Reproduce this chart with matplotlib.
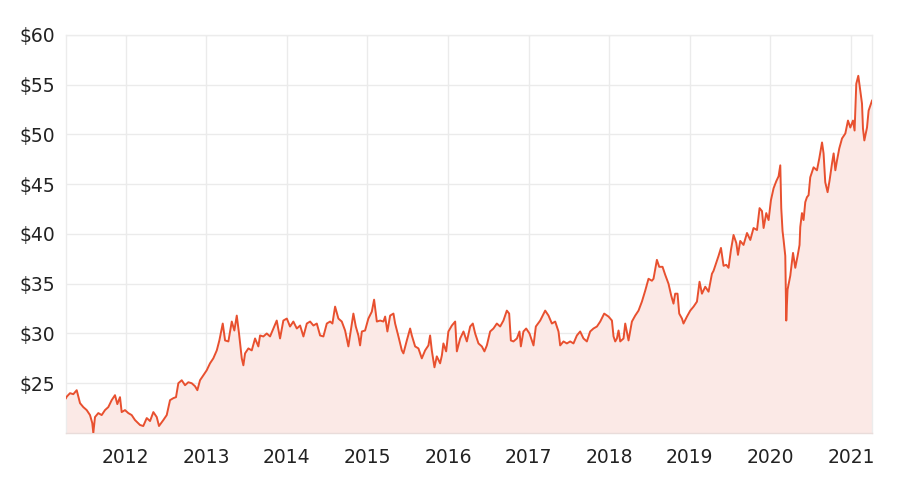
import matplotlib
matplotlib.use("Agg")
import matplotlib.pyplot as plt

plt.rcParams['font.family'] = ['DejaVu Sans']

# decimal-year dates and share prices (USD)
dates = [
    2011.259, 2011.268, 2011.309, 2011.350, 2011.392, 2011.433, 2011.474, 2011.516, 2011.557, 2011.585,
    2011.598, 2011.619, 2011.660, 2011.702, 2011.743, 2011.784, 2011.826, 2011.867, 2011.896, 2011.929,
    2011.950, 2011.991, 2012.032, 2012.074, 2012.115, 2012.178, 2012.218, 2012.261, 2012.302, 2012.343,
    2012.385, 2012.413, 2012.467, 2012.509, 2012.550, 2012.591, 2012.624, 2012.653, 2012.695, 2012.736,
    2012.777, 2012.819, 2012.860, 2012.889, 2012.922, 2012.963, 2013.005, 2013.046, 2013.087, 2013.130,
    2013.162, 2013.204, 2013.233,
    2013.274, 2013.316, 2013.348, 2013.378, 2013.406, 2013.440, 2013.460, 2013.481, 2013.522, 2013.564,
    2013.605, 2013.646, 2013.667, 2013.708, 2013.750, 2013.791, 2013.832, 2013.874, 2013.915, 2013.956,
    2013.999, 2014.039, 2014.080, 2014.123, 2014.164, 2014.205, 2014.247, 2014.288, 2014.329, 2014.371,
    2014.412, 2014.453, 2014.495, 2014.536, 2014.565, 2014.598, 2014.639, 2014.681, 2014.722, 2014.763,
    2014.797, 2014.825, 2014.855, 2014.887, 2014.908, 2014.930, 2014.970, 2015.011, 2015.054, 2015.082,
    2015.116, 2015.157, 2015.198, 2015.219, 2015.247, 2015.281,
    2015.322, 2015.343, 2015.384, 2015.426, 2015.446, 2015.488, 2015.529, 2015.550, 2015.591, 2015.632,
    2015.674, 2015.715, 2015.756, 2015.777, 2015.798, 2015.831, 2015.860, 2015.901, 2015.923, 2015.942,
    2015.976, 2016.004, 2016.047, 2016.088, 2016.109, 2016.150, 2016.191, 2016.233, 2016.274, 2016.307,
    2016.336, 2016.377, 2016.419, 2016.451, 2016.481, 2016.522, 2016.563, 2016.605, 2016.646, 2016.687,
    2016.729, 2016.758, 2016.779, 2016.811, 2016.854, 2016.886, 2016.903, 2016.935, 2016.969, 2017.010,
    2017.060, 2017.089, 2017.143, 2017.205, 2017.246, 2017.288, 2017.329, 2017.370,
    2017.391, 2017.432, 2017.474, 2017.515, 2017.556, 2017.598, 2017.639, 2017.680, 2017.722, 2017.763,
    2017.804, 2017.847, 2017.888, 2017.937, 2017.991, 2018.033, 2018.053, 2018.074, 2018.095, 2018.115,
    2018.136, 2018.177, 2018.198, 2018.239, 2018.281, 2018.322, 2018.363, 2018.405, 2018.446,
    2018.487, 2018.529, 2018.549, 2018.591, 2018.620, 2018.661, 2018.694, 2018.735, 2018.769, 2018.797,
    2018.818, 2018.847, 2018.868, 2018.902, 2018.921, 2018.964, 2019.005, 2019.046, 2019.088, 2019.120,
    2019.150, 2019.191, 2019.232, 2019.274,
    2019.294, 2019.356, 2019.386, 2019.418, 2019.452, 2019.480, 2019.510, 2019.542, 2019.576, 2019.597,
    2019.625, 2019.666, 2019.709, 2019.750, 2019.790, 2019.833, 2019.865, 2019.895, 2019.915, 2019.948,
    2019.977, 2020.006, 2020.039, 2020.072, 2020.101, 2020.122, 2020.134, 2020.150, 2020.163, 2020.184,
    2020.196, 2020.212, 2020.246, 2020.280, 2020.308, 2020.337, 2020.361,
    2020.370, 2020.391, 2020.411, 2020.432, 2020.453, 2020.473, 2020.494, 2020.535, 2020.577, 2020.606,
    2020.640, 2020.659, 2020.680, 2020.709, 2020.734, 2020.764, 2020.784, 2020.805, 2020.826, 2020.854,
    2020.888, 2020.929, 2020.962, 2020.991, 2021.024, 2021.044, 2021.065, 2021.090, 2021.115, 2021.136,
    2021.148, 2021.165, 2021.198, 2021.218, 2021.260,
]

prices = [
    23.5, 23.65, 24.0, 23.9, 24.3, 23.0, 22.6, 22.3, 21.8, 21.0,
    20.0, 21.6, 22.0, 21.8, 22.3, 22.6, 23.3, 23.8, 22.9, 23.6,
    22.1, 22.3, 22.0, 21.8, 21.3, 20.8, 20.7, 21.5, 21.2, 22.1,
    21.6, 20.7, 21.3, 21.8, 23.3, 23.5, 23.6, 25.0, 25.3, 24.8,
    25.1, 25.0, 24.7, 24.3, 25.3, 25.8, 26.3, 27.0, 27.5, 28.3,
    29.3, 31.0, 29.3,
    29.2, 31.2, 30.3, 31.8, 30.0, 27.5, 26.8, 28.0, 28.5, 28.3,
    29.5, 28.7, 29.8, 29.7, 30.0, 29.7, 30.5, 31.3, 29.5, 31.3,
    31.5, 30.7, 31.2, 30.5, 30.8, 29.7, 31.0, 31.2, 30.8, 31.0,
    29.8, 29.7, 31.0, 31.2, 31.0, 32.7, 31.5, 31.2, 30.3, 28.7,
    30.5, 32.0, 30.7, 29.8, 28.8, 30.2, 30.3, 31.5, 32.2, 33.4,
    31.2, 31.3, 31.2, 31.7, 30.2, 31.8,
    32.0, 31.0, 29.7, 28.3, 28.0, 29.3, 30.5, 29.8, 28.7, 28.5,
    27.5, 28.3, 28.8, 29.8, 28.3, 26.6, 27.7, 27.0, 27.8, 29.0,
    28.2, 30.2, 30.8, 31.2, 28.2, 29.5, 30.2, 29.2, 30.7, 31.0,
    30.0, 29.0, 28.7, 28.2, 28.8, 30.2, 30.5, 31.0, 30.7, 31.3,
    32.3, 32.0, 29.3, 29.2, 29.5, 30.2, 28.7, 30.2, 30.5, 30.0,
    28.8, 30.7, 31.3, 32.3, 31.8, 31.0, 31.2, 30.2,
    28.8, 29.2, 29.0, 29.2, 29.0, 29.8, 30.2, 29.5, 29.2, 30.2,
    30.5, 30.7, 31.2, 32.0, 31.7, 31.3, 29.7, 29.2, 29.5, 30.3,
    29.2, 29.5, 31.0, 29.3, 31.2, 31.8, 32.3, 33.2, 34.3,
    35.5, 35.3, 35.5, 37.4, 36.7, 36.7, 35.9, 35.0, 33.8, 33.0,
    34.0, 34.0, 32.0, 31.5, 31.0, 31.7, 32.3, 32.7, 33.2, 35.2,
    34.0, 34.7, 34.2, 36.0,
    36.3, 37.8, 38.6, 36.8, 36.9, 36.6, 38.4, 39.9, 39.1, 37.9,
    39.3, 38.9, 40.1, 39.4, 40.6, 40.4, 42.6, 42.3, 40.6, 42.1,
    41.4, 43.4, 44.6, 45.3, 45.8, 46.9, 42.6, 40.3, 39.4, 37.8,
    31.3, 34.4, 35.8, 38.1, 36.6, 37.8, 38.9,
    40.7, 42.1, 41.4, 43.2, 43.7, 43.9, 45.7, 46.7, 46.4, 47.6,
    49.2, 48.1, 45.2, 44.2, 45.4, 47.1, 48.1, 46.4, 47.4, 48.6,
    49.6, 50.1, 51.4, 50.7, 51.4, 50.4, 55.1, 55.9, 54.4, 53.1,
    50.6, 49.4, 50.7, 52.4, 53.4,
]

year_ticks = [2012, 2013, 2014, 2015, 2016, 2017, 2018, 2019, 2020, 2021]
price_ticks = [25, 30, 35, 40, 45, 50, 55, 60]

line_color = "#e8502f"
fill_color = "#fbe9e6"

fig = plt.figure(figsize=(9.04, 4.82), dpi=100)
ax = fig.add_axes([0.073, 0.1017, 0.8916, 0.8257])

ax.fill_between(dates, prices, 20, color=fill_color, linewidth=0, zorder=1)
ax.plot(dates, prices, color=line_color, linewidth=1.4, zorder=3)

ax.set_xlim(dates[0], dates[-1])
ax.set_ylim(20, 60)
ax.set_xticks(year_ticks)
ax.set_xticklabels([str(y) for y in year_ticks])
ax.set_yticks(price_ticks)
ax.set_yticklabels([f"${p}" for p in price_ticks])

ax.grid(True, color="#ebebeb", linewidth=1.0, zorder=0)
ax.set_axisbelow(True)
for side in ["top", "right", "left"]:
    ax.spines[side].set_color("#ececec")
    ax.spines[side].set_linewidth(1.0)
ax.spines["bottom"].set_color("#e9dcda")
ax.spines["bottom"].set_linewidth(1.0)

ax.tick_params(axis="both", length=0, labelsize=13.5, colors="#222222")
ax.tick_params(axis="x", pad=11)
ax.tick_params(axis="y", pad=8)

fig.savefig("out.png", dpi=100, facecolor="white")
